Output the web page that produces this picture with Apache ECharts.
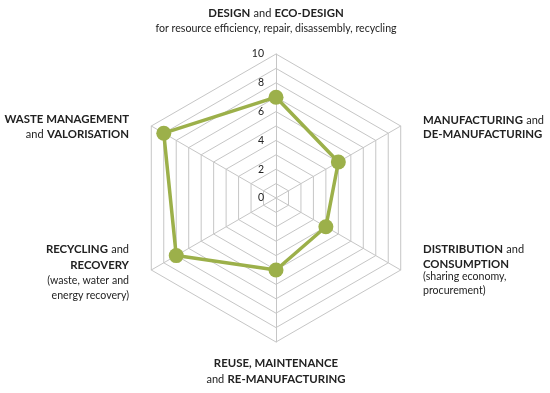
<!DOCTYPE html>
<html>
<head>
<meta charset="utf-8">
<script src="https://cdn.jsdelivr.net/npm/echarts@6/dist/echarts.min.js"></script>
<style>
html,body{margin:0;padding:0;background:#fff;}
#chart{width:550px;height:393px;}
</style>
</head>
<body>
<div id="chart"></div>
<script>
// Indicators in ECharts order (counter-clockwise from the top)
const indicatorNames = [
  'DESIGN and ECO-DESIGN',
  'WASTE MANAGEMENT and VALORISATION',
  'RECYCLING and RECOVERY',
  'REUSE, MAINTENANCE and RE-MANUFACTURING',
  'DISTRIBUTION and CONSUMPTION',
  'MANUFACTURING and DE-MANUFACTURING'
];
const maxValue = 10;
const scores = [7, 9, 8, 5, 4, 5];
const tickLabels = [0, 2, 4, 6, 8, 10];

// Label text lines per indicator ({c|..} caps, {l|..} lowercase)
const labelLines = [
  ['{c|DESIGN} {l|and} {c|ECO-DESIGN}', '{s|for resource efficiency, repair, disassembly, recycling}'],
  ['{c|WASTE MANAGEMENT}', '{l|and} {c|VALORISATION}'],
  ['{c|RECYCLING} {l|and}', '{c|RECOVERY}', '{s|(waste, water and}', '{s|energy recovery)}'],
  ['{c|REUSE, MAINTENANCE}', '{l|and} {c|RE-MANUFACTURING}'],
  ['{c|DISTRIBUTION} {l|and}', '{c|CONSUMPTION}', '{s|(sharing economy,}', '{s|procurement)}'],
  ['{c|MANUFACTURING} {l|and}', '{c|DE-MANUFACTURING}']
];

// layout for the label blocks
const labelLayout = [
  {x: 276, ys: [13.8, 28.5], align: 'center'},
  {x: 129, ys: [119.8, 134.3], align: 'right'},
  {x: 129, ys: [249.3, 265.8, 281, 296], align: 'right'},
  {x: 276, ys: [363.3, 379.3], align: 'center'},
  {x: 423, ys: [249.5, 264.5, 277, 290.5], align: 'left'},
  {x: 423, ys: [120.5, 134], align: 'left'}
];

const FONT = 'Lato, "Open Sans", sans-serif';
const rich = {
  c: {fontFamily: FONT, fontSize: 11.4, fontWeight: 'bold', fill: '#222222'},
  l: {fontFamily: FONT, fontSize: 11, fontWeight: 'normal', fill: '#222222'},
  s: {fontFamily: FONT, fontSize: 10.6, fontWeight: 'normal', fill: '#222222'}
};

const graphics = [];
labelLines.forEach(function (lines, i) {
  const lay = labelLayout[i];
  lines.forEach(function (line, j) {
    graphics.push({
      type: 'text',
      x: lay.x,
      y: lay.ys[j],
      silent: true,
      style: {
        text: line,
        rich: rich,
        align: lay.align,
        verticalAlign: 'middle',
        fill: '#222222'
      }
    });
  });
});

const GRID = '#c6c6c6';
const GREEN = '#9cb04a';

const indicators = indicatorNames.map(function (n, i) {
  const ind = {name: n, min: 0, max: maxValue};
  if (i === 0) {
    ind.axisLabel = {
      show: true,
      color: '#222',
      fontFamily: FONT,
      fontSize: 10.5,
      margin: 12,
      padding: [4, 0, 0, 0],
      formatter: function (v) { return tickLabels.indexOf(v) >= 0 ? String(v) : ''; }
    };
  }
  return ind;
});

const chart = echarts.init(document.getElementById('chart'), null, {renderer: 'canvas'});
chart.setOption({
  animation: false,
  backgroundColor: '#ffffff',
  radar: {
    center: [276, 198],
    radius: 144,
    startAngle: 90,
    shape: 'polygon',
    splitNumber: 10,
    indicator: indicators,
    axisName: {show: false},
    axisLine: {show: true, lineStyle: {color: GRID, width: 1}},
    axisTick: {show: false},
    axisLabel: {show: false},
    splitLine: {show: true, lineStyle: {color: GRID, width: 1}},
    splitArea: {show: false}
  },
  graphic: graphics,
  series: [{
    type: 'radar',
    symbol: 'circle',
    symbolSize: 15,
    lineStyle: {color: GREEN, width: 3.5},
    itemStyle: {color: GREEN},
    areaStyle: null,
    data: [{value: scores, name: 'score'}]
  }]
});
</script>
</body>
</html>
